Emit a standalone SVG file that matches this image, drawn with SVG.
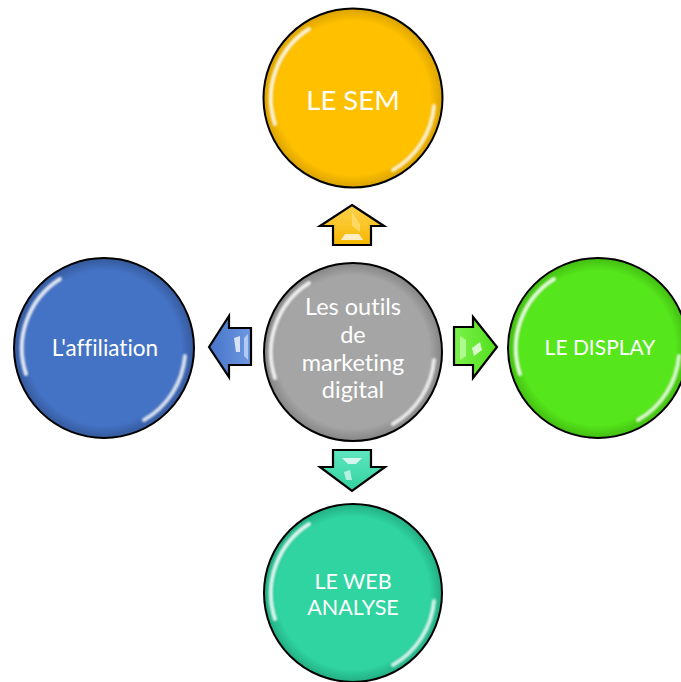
<svg xmlns="http://www.w3.org/2000/svg" width="681" height="682" viewBox="0 0 681 682">
<defs>
<style>
.ring{stroke:#000;stroke-width:2}
.lbl{font-family:Lato,"Open Sans","Liberation Sans",sans-serif;fill:#fff;text-anchor:middle;font-variant-ligatures:none}
.arr{stroke:#000;stroke-width:2.2;stroke-linejoin:miter}
.hl{fill:#fff;opacity:0.75}
</style>
<filter id="blur" x="-20%" y="-20%" width="140%" height="140%"><feGaussianBlur stdDeviation="1.3"/></filter>
<radialGradient id="gY"><stop offset="0" stop-color="#FFC000"/><stop offset="0.86" stop-color="#FFC000"/><stop offset="1" stop-color="#D9A200"/></radialGradient>
<radialGradient id="gG"><stop offset="0" stop-color="#A5A5A5"/><stop offset="0.86" stop-color="#A5A5A5"/><stop offset="1" stop-color="#858585"/></radialGradient>
<radialGradient id="gB"><stop offset="0" stop-color="#4472C4"/><stop offset="0.86" stop-color="#4472C4"/><stop offset="1" stop-color="#35599C"/></radialGradient>
<radialGradient id="gL"><stop offset="0" stop-color="#55E61B"/><stop offset="0.86" stop-color="#55E61B"/><stop offset="1" stop-color="#43BD12"/></radialGradient>
<radialGradient id="gT"><stop offset="0" stop-color="#2FD4A0"/><stop offset="0.86" stop-color="#2FD4A0"/><stop offset="1" stop-color="#23AD82"/></radialGradient>
<g id="gloss">
<path d="M -78 26 A 82 82 0 0 1 -44 -69" fill="none" stroke="#fff" stroke-width="4" stroke-linecap="round" opacity="0.85" filter="url(#blur)"/>
<path d="M 81 8 A 82 82 0 0 1 40 72" fill="none" stroke="#fff" stroke-width="4" stroke-linecap="round" opacity="0.8" filter="url(#blur)"/>
</g>
<linearGradient id="aY" x1="0" y1="0" x2="0" y2="1"><stop offset="0" stop-color="#FFD24D"/><stop offset="1" stop-color="#F5B800"/></linearGradient>
<linearGradient id="aB" x1="1" y1="0" x2="0" y2="0"><stop offset="0" stop-color="#6E98E0"/><stop offset="1" stop-color="#4573C8"/></linearGradient>
<linearGradient id="aL" x1="0" y1="0" x2="1" y2="0"><stop offset="0" stop-color="#7CF24C"/><stop offset="1" stop-color="#52DE1C"/></linearGradient>
<linearGradient id="aT" x1="0" y1="0" x2="0" y2="1"><stop offset="0" stop-color="#5FE6C0"/><stop offset="1" stop-color="#33D2A0"/></linearGradient>
</defs>
<rect width="681" height="682" fill="#fff"/>

<g id="connectors">
<g id="arrow-up">
<polygon class="arr" fill="url(#aY)" points="352,205 384,226 371,226 371,245 333,245 333,226 320,226"/>
<polygon fill="#FFE07A" opacity="0.7" points="352,212 360,224 360,232 352,226"/>
<polygon class="hl" points="345,234 359,234 363,240 341,240"/>
</g>
<g id="arrow-down">
<polygon class="arr" fill="url(#aT)" points="333,450 371,450 371,467 385,467 352,491 320,467 333,467"/>
<polygon class="hl" points="342,458 362,458 356,464 348,464"/>
<polygon fill="#fff" opacity="0.6" points="344,472 350,470 352,480 346,480"/>
</g>
<g id="arrow-left">
<polygon class="arr" fill="url(#aB)" points="209,347 229,316 229,328 251,328 251,365 229,365 229,377"/>
<polygon class="hl" points="234,338 240,336 240,352 236,352"/>
<polygon fill="#cfe0ff" opacity="0.7" points="244,338 248,334 248,360 244,356"/>
</g>
<g id="arrow-right">
<polygon class="arr" fill="url(#aL)" points="454,327 473,327 473,317 497,347 473,378 473,365 454,365"/>
<polygon fill="#c8ffb0" opacity="0.7" points="460,336 466,340 466,356 460,360"/>
<polygon class="hl" points="472,348 480,342 482,350 474,356"/>
</g>
</g>

<g id="node-sem">
<circle class="ring" cx="353" cy="98" r="89.5" fill="url(#gY)"/>
<use href="#gloss" transform="translate(353 98)"/>
<text class="lbl" x="353" y="110" font-size="27.5">LE SEM</text>
</g>

<g id="node-center">
<circle class="ring" cx="353" cy="352" r="89" fill="url(#gG)"/>
<use href="#gloss" transform="translate(353 352)"/>
<text class="lbl" font-size="23.5"><tspan x="353" y="315">Les outils</tspan><tspan x="353" y="343">de</tspan><tspan x="353" y="371">marketing</tspan><tspan x="353" y="398">digital</tspan></text>
</g>

<g id="node-affiliation">
<circle class="ring" cx="104" cy="348" r="90" fill="url(#gB)"/>
<use href="#gloss" transform="translate(104 348)"/>
<text class="lbl" x="105" y="356" font-size="22.5">L'affiliation</text>
</g>

<g id="node-display">
<circle class="ring" cx="598" cy="348" r="90" fill="url(#gL)"/>
<use href="#gloss" transform="translate(598 348)"/>
<text class="lbl" x="600" y="355" font-size="21">LE DISPLAY</text>
</g>

<g id="node-webanalyse">
<circle class="ring" cx="353" cy="593" r="89" fill="url(#gT)"/>
<use href="#gloss" transform="translate(353 593)"/>
<text class="lbl" font-size="21.5"><tspan x="353" y="589">LE WEB</tspan><tspan x="353" y="615">ANALYSE</tspan></text>
</g>
</svg>
